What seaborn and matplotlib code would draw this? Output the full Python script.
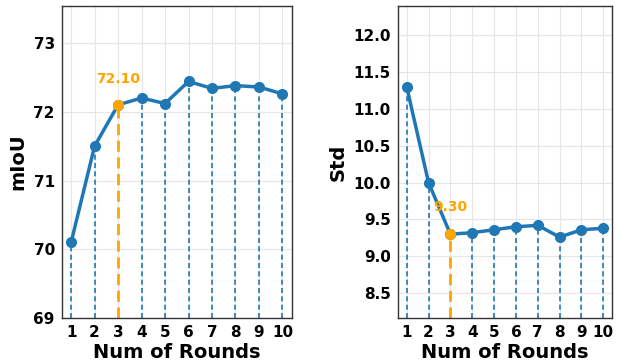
import matplotlib
matplotlib.use("Agg")
import matplotlib.pyplot as plt
import seaborn as sns
import pandas as pd

rounds = [1, 2, 3, 4, 5, 6, 7, 8, 9, 10]
miou = [70.10, 71.50, 72.10, 72.20, 72.12, 72.44, 72.34, 72.38, 72.36, 72.26]
std = [11.30, 10.00, 9.30, 9.32, 9.36, 9.40, 9.42, 9.26, 9.36, 9.38]
best_idx = 2

BLUE = "#1f77b4"
ORANGE = "#ffa500"


def draw(ax, values, ylabel, yticks, fmt):
    df = pd.DataFrame({"round": rounds, "val": values})
    lo = min(values) - 1.1
    hi = max(values) + 1.1
    ax.set_ylim(lo, hi)
    for i, (r, v) in enumerate(zip(rounds, values)):
        if i == best_idx:
            ax.vlines(r, lo, v, colors=ORANGE, linestyles=(0, (4, 2)), linewidth=2, zorder=1)
        else:
            ax.vlines(r, lo, v, colors=BLUE, linestyles=(0, (3, 2)), linewidth=1.2, zorder=1)
    sns.lineplot(data=df, x="round", y="val", ax=ax, color=BLUE, linewidth=2.5,
                 marker="o", markersize=8, markeredgewidth=0, zorder=3)
    ax.plot(rounds[best_idx], values[best_idx], "o", color=ORANGE,
            markersize=8, markeredgewidth=0, zorder=4)
    ax.text(rounds[best_idx], values[best_idx] + 0.27, fmt % values[best_idx],
            color=ORANGE, fontsize=10, fontweight="bold", ha="center", va="bottom")
    ax.set_xlim(0.6, 10.4)
    ax.set_xticks(rounds)
    ax.set_yticks(yticks)
    ax.set_xlabel("Num of Rounds", fontsize=14, fontweight="bold", labelpad=2)
    ax.set_ylabel(ylabel, fontsize=14, fontweight="bold")
    ax.grid(True, color="#e6e6e6", linewidth=0.8)
    ax.set_axisbelow(True)
    for lab in ax.get_xticklabels() + ax.get_yticklabels():
        lab.set_fontweight("bold")
    ax.tick_params(labelsize=11, length=3, pad=2, colors="black")
    for s in ax.spines.values():
        s.set_color("#333333")
        s.set_linewidth(1)


sns.set_style("white")
plt.rcParams["font.family"] = ["DejaVu Sans"]
plt.rcParams["text.color"] = "black"
plt.rcParams["axes.labelcolor"] = "black"

fig = plt.figure(figsize=(6.17, 3.64), dpi=100)
ax1 = fig.add_axes([0.100, 0.126, 0.373, 0.858])
ax2 = fig.add_axes([0.645, 0.126, 0.347, 0.858])

draw(ax1, miou, "mIoU", [69, 70, 71, 72, 73], "%.2f")
draw(ax2, std, "Std", [8.5, 9.0, 9.5, 10.0, 10.5, 11.0, 11.5, 12.0], "%.2f")

fig.savefig("out.png", dpi=100)
